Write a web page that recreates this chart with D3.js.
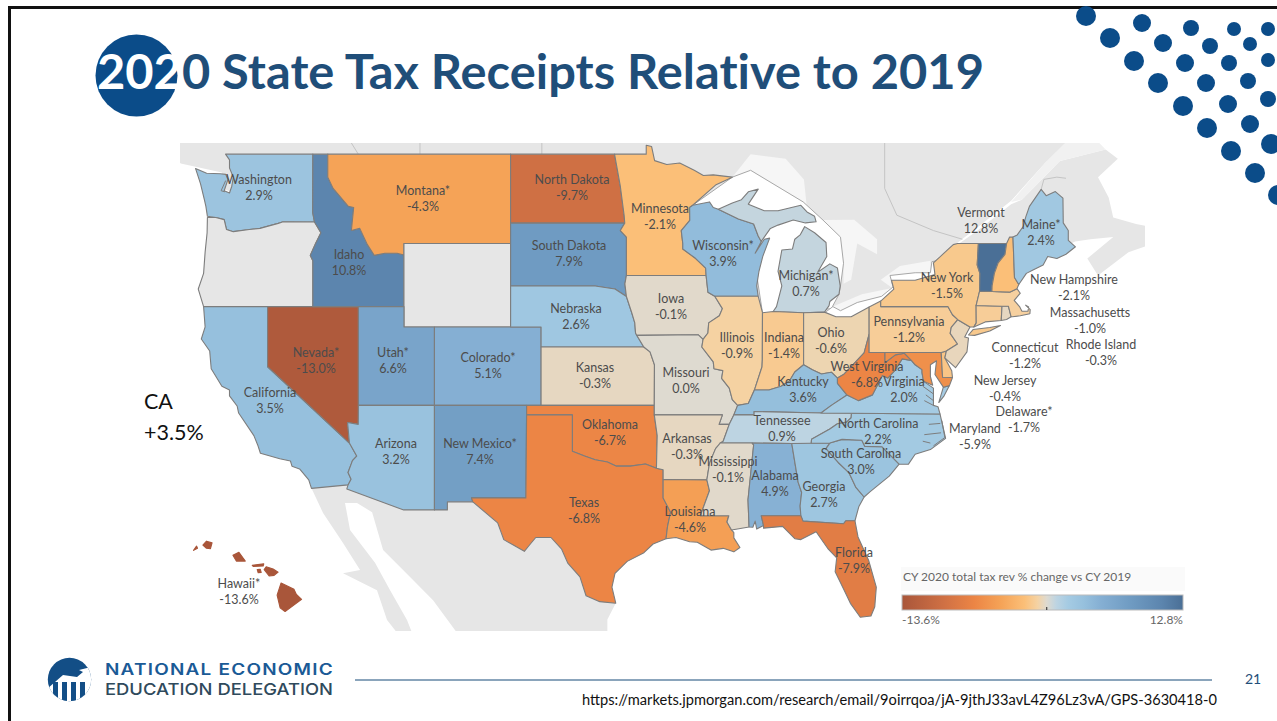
<!DOCTYPE html>
<html>
<head>
<meta charset="utf-8">
<title>2020 State Tax Receipts Relative to 2019</title>
<script src="https://cdn.jsdelivr.net/npm/d3@7"></script>
<style>
    html, body { margin: 0; padding: 0; background: #fff; overflow: hidden; }
    svg { display: block; }
    .soft { filter: blur(0.35px); }
</style>
</head>
<body>
<div id="chart"></div>
<script>
// Tax receipt change
const stateNames = ["Washington", "Oregon", "California", "Nevada*", "Idaho", "Montana*", "Wyoming", "Utah*", "Colorado*", "Arizona", "New Mexico*",
    "North Dakota", "South Dakota", "Nebraska", "Kansas", "Oklahoma", "Texas", "Minnesota", "Iowa", "Missouri", "Arkansas", "Louisiana",
    "Wisconsin*", "Illinois", "Michigan*", "Indiana", "Ohio", "Kentucky", "Tennessee", "Mississippi", "Alabama", "Georgia", "Florida",
    "South Carolina", "North Carolina", "Virginia", "West Virginia", "Maryland", "Delaware*", "Pennsylvania", "New Jersey", "New York",
    "Connecticut", "Rhode Island", "Massachusetts", "Vermont", "New Hampshire", "Maine*", "Hawaii*"];
const stateValues = [2.9, null, 3.5, -13.0, 10.8, -4.3, null, 6.6, 5.1, 3.2, 7.4,
    -9.7, 7.9, 2.6, -0.3, -6.7, -6.8, -2.1, -0.1, 0.0, -0.3, -4.6,
    3.9, -0.9, 0.7, -1.4, -0.6, 3.6, 0.9, -0.1, 4.9, 2.7, -7.9,
    3.0, 2.2, 2.0, -6.8, -5.9, -1.7, -1.2, -0.4, -1.5,
    -1.2, -0.3, -1.0, 12.8, -2.1, 2.4, -13.6];

// Colour ramp, sampled from the filled states
const colorStops = [-13.6, -9.7, -6.8, -4.3, -2.1, -0.9, 0, 0.9, 2.0, 3.5, 5.1, 7.9, 10.8, 12.8];
const colorRange = ["#a9563a", "#cf7044", "#ec8545", "#f5a357", "#fbbf78", "#f5d2a2", "#dedad0", "#bdd4e2", "#a5cbe3", "#96c0dd", "#85afd3", "#6f9bc2", "#5c85ae", "#4a6f96"];

// State outlines as lon/lat rings, same order as stateNames
const stateRings = [
    [[[-122.76,49],[-117.03,49],[-117.04,46.42],[-116.92,45.99],[-118.98,46],[-119.3,45.93],[-120.5,45.7],[-121.2,45.65],[-122.25,45.55],[-122.7,45.65],[-122.85,46.1],[-123.4,46.2],[-123.95,46.25],[-124.05,46.7],[-124.15,47],[-124.4,47.7],[-124.73,48.38],[-124,48.17],[-123.1,48.15],[-122.75,48.12],[-122.6,47.9],[-122.85,47.4],[-122.5,47.3],[-122.35,47.6],[-122.25,48],[-122.5,48.4],[-122.5,48.75]]],
    [[[-124.55,42.85],[-124.2,42],[-120,42],[-117.03,42],[-117.03,44.2],[-117.2,44.45],[-116.85,45],[-116.5,45.5],[-116.92,45.99],[-118.98,46],[-119.3,45.93],[-120.5,45.7],[-121.2,45.65],[-122.25,45.55],[-122.7,45.65],[-122.85,46.1],[-123.4,46.2],[-123.95,46.2],[-123.97,45.5],[-124.1,44.6],[-124.2,43.6]]],
    [[[-124.2,42],[-120,42],[-120,39],[-114.63,35],[-114.15,34.3],[-114.43,34.05],[-114.72,33.4],[-114.52,33.03],[-114.72,32.72],[-117.12,32.53],[-117.3,33],[-117.9,33.6],[-118.4,33.75],[-118.5,34.03],[-119.2,34.15],[-120.47,34.45],[-120.65,34.9],[-120.9,35.4],[-121.9,36.6],[-122,36.97],[-122.5,37.5],[-122.5,37.8],[-123,38],[-123.7,38.9],[-123.8,39.8],[-124.35,40.4],[-124.1,41]]],
    [[[-120,42],[-114.04,42],[-114.04,36.2],[-114.05,36],[-114.75,36.1],[-114.63,35],[-120,39]]],
    [[[-117.03,49],[-116.05,49],[-116.05,48],[-115.7,47.5],[-114.7,46.7],[-114.35,46.65],[-114.5,45.6],[-113.95,45.7],[-113.45,44.95],[-113,44.45],[-112.3,44.55],[-111.5,44.55],[-111.05,44.47],[-111.05,42],[-117.03,42],[-117.03,44.2],[-117.2,44.45],[-116.85,45],[-116.5,45.5],[-116.92,45.99],[-117.04,46.42]]],
    [[[-116.05,49],[-104.05,49],[-104.05,45],[-111.05,45],[-111.05,44.47],[-111.5,44.55],[-112.3,44.55],[-113,44.45],[-113.45,44.95],[-113.95,45.7],[-114.5,45.6],[-114.35,46.65],[-114.7,46.7],[-115.7,47.5],[-116.05,48]]],
    [[[-111.05,45],[-104.05,45],[-104.05,41],[-111.05,41]]],
    [[[-114.04,42],[-111.05,42],[-111.05,41],[-109.05,41],[-109.05,37],[-114.04,37]]],
    [[[-109.05,41],[-102.05,41],[-102.05,37],[-109.05,37]]],
    [[[-114.04,37],[-109.05,37],[-109.05,31.33],[-111.07,31.33],[-114.8,32.5],[-114.72,32.72],[-114.52,33.03],[-114.72,33.4],[-114.43,34.05],[-114.15,34.3],[-114.63,35],[-114.75,36.1],[-114.05,36]]],
    [[[-109.05,37],[-103,37],[-103.05,32],[-106.62,32],[-106.53,31.78],[-108.2,31.78],[-108.2,31.33],[-109.05,31.33]]],
    [[[-104.05,49],[-97.23,49],[-96.85,47.6],[-96.6,46.3],[-96.56,45.94],[-104.05,45.94]]],
    [[[-104.05,45.94],[-96.56,45.94],[-96.85,45.6],[-96.45,45.3],[-96.45,43.5],[-96.55,43.1],[-96.45,42.49],[-97.2,42.85],[-98.5,43],[-104.05,43]]],
    [[[-104.05,43],[-98.5,43],[-97.2,42.85],[-96.45,42.49],[-96.1,41.7],[-95.9,41.2],[-95.85,40.7],[-95.31,40],[-102.05,40],[-102.05,41],[-104.05,41]]],
    [[[-102.05,40],[-95.31,40],[-94.9,39.75],[-94.61,39.1],[-94.62,37],[-102.05,37]]],
    [[[-103,37],[-94.62,37],[-94.62,36.5],[-94.43,35.4],[-94.48,33.64],[-95.2,33.87],[-96.2,33.75],[-97.1,33.75],[-97.7,33.98],[-98.5,34.1],[-99.2,34.3],[-100,34.56],[-100,36.5],[-103,36.5]]],
    [[[-106.62,32],[-103.05,32],[-103,36.5],[-100,36.5],[-100,34.56],[-99.2,34.3],[-98.5,34.1],[-97.7,33.98],[-97.1,33.75],[-96.2,33.75],[-95.2,33.87],[-94.48,33.64],[-94.04,33.55],[-94.04,33.02],[-94.04,31.99],[-93.55,31.2],[-93.75,30.4],[-93.85,29.7],[-94.7,29.4],[-95.3,28.9],[-96.4,28.4],[-97.2,27.7],[-97.4,26.9],[-97.15,25.96],[-98.2,26.05],[-99.1,26.4],[-99.5,27.5],[-100.3,28.3],[-100.7,29.1],[-101.4,29.77],[-102.4,29.77],[-102.85,29.3],[-103.15,28.98],[-104.5,29.65],[-104.9,30.6],[-106.53,31.78]]],
    [[[-97.23,49],[-95.15,49],[-95.15,49.38],[-94.8,49.33],[-94.6,48.72],[-93.8,48.55],[-92.95,48.62],[-92,48.3],[-91.4,48.07],[-90.75,48.1],[-89.5,48],[-90.6,47.65],[-92.1,46.75],[-92.3,46.65],[-92.29,46.07],[-92.85,45.6],[-92.75,45],[-92.75,44.75],[-91.9,44.3],[-91.25,43.85],[-91.22,43.5],[-96.45,43.5],[-96.45,45.3],[-96.85,45.6],[-96.56,45.94],[-96.6,46.3],[-96.85,47.6]]],
    [[[-96.45,43.5],[-91.22,43.5],[-91.1,42.7],[-90.65,42.5],[-90.15,41.9],[-90.35,41.55],[-91.05,41.2],[-91.1,40.7],[-91.42,40.38],[-91.73,40.61],[-95.77,40.58],[-95.85,40.7],[-95.9,41.2],[-96.1,41.7],[-96.45,42.49],[-96.55,43.1]]],
    [[[-95.77,40.58],[-91.73,40.61],[-91.42,40.38],[-91.5,40],[-90.75,39.25],[-90.7,38.9],[-90.12,38.8],[-90.2,38.4],[-89.7,37.9],[-89.5,37.3],[-89.15,37],[-89.4,36.5],[-89.7,36],[-90.37,36],[-90.15,36.5],[-94.62,36.5],[-94.62,37],[-94.61,39.1],[-94.9,39.75],[-95.31,40]]],
    [[[-94.62,36.5],[-90.15,36.5],[-90.37,36],[-89.7,36],[-90.1,35.1],[-90.6,34.7],[-91,33.9],[-91.17,33],[-94.04,33.02],[-94.04,33.55],[-94.48,33.64],[-94.43,35.4]]],
    [[[-94.04,33.02],[-91.17,33],[-91,32.4],[-91.6,31],[-89.73,31],[-89.85,30.65],[-89.55,30.2],[-89.4,30.05],[-89.4,29.75],[-89,29.2],[-89.4,28.95],[-90.1,29.15],[-90.9,29.05],[-91.8,29.5],[-92.3,29.53],[-93.2,29.77],[-93.85,29.7],[-93.75,30.4],[-93.55,31.2],[-94.04,31.99]]],
    [[[-92.75,45],[-92.85,45.6],[-92.29,46.07],[-92.3,46.65],[-92.1,46.75],[-91,46.9],[-90.75,46.65],[-90.42,46.57],[-89.1,46.13],[-88.1,45.9],[-87.8,45.35],[-87.6,45.1],[-88,44.55],[-87.4,45.2],[-87.05,45.25],[-87.5,44.4],[-87.75,43.7],[-87.9,43],[-87.8,42.5],[-90.65,42.5],[-91.1,42.7],[-91.22,43.5],[-91.25,43.85],[-91.9,44.3],[-92.75,44.75]]],
    [[[-90.65,42.5],[-87.8,42.5],[-87.52,41.7],[-87.53,39.35],[-87.55,39],[-88.05,37.8],[-88.45,37.1],[-89.15,37],[-89.5,37.3],[-89.7,37.9],[-90.2,38.4],[-90.12,38.8],[-90.7,38.9],[-90.75,39.25],[-91.5,40],[-91.42,40.38],[-91.1,40.7],[-91.05,41.2],[-90.35,41.55],[-90.15,41.9]]],
    [[[-86.82,41.76],[-84.82,41.7],[-83.45,41.73],[-83.15,42.05],[-83.1,42.25],[-82.5,42.6],[-82.42,43],[-82.6,43.85],[-83.1,44.05],[-83.9,43.65],[-83.3,44.4],[-83.35,45.05],[-84.1,45.5],[-84.75,45.78],[-85.05,45.4],[-85.4,45.2],[-85.55,44.75],[-86.25,44.7],[-86.5,43.7],[-86.25,43],[-86.6,42]],
     [[-90.42,46.57],[-89.5,46.85],[-88.9,47],[-88.45,47.35],[-87.8,47.47],[-88.45,46.8],[-87.4,46.5],[-86.5,46.5],[-85,46.75],[-84.6,46.45],[-84.1,46.25],[-84,46],[-84.7,45.95],[-85.5,46.08],[-86.5,45.85],[-87,45.7],[-87.6,45.1],[-87.8,45.35],[-88.1,45.9],[-89.1,46.13]]],
    [[[-87.52,41.7],[-86.82,41.76],[-84.82,41.7],[-84.82,39.1],[-85.4,38.73],[-85.75,38.27],[-86.3,38],[-87.1,37.8],[-88.05,37.8],[-87.55,39],[-87.53,39.35]]],
    [[[-84.82,41.7],[-83.45,41.73],[-82.7,41.5],[-81.7,41.5],[-80.52,41.98],[-80.52,40.64],[-80.85,39.7],[-81.7,39],[-82.2,38.6],[-82.6,38.42],[-83,38.72],[-83.65,38.63],[-84.25,38.85],[-84.82,39.1]]],
    [[[-89.15,37],[-89.4,36.5],[-88.07,36.5],[-88.07,36.68],[-83.68,36.6],[-83,37],[-81.97,37.54],[-82.6,38.15],[-82.6,38.42],[-83,38.72],[-83.65,38.63],[-84.25,38.85],[-84.82,39.1],[-85.4,38.73],[-85.75,38.27],[-86.3,38],[-87.1,37.8],[-88.05,37.8],[-88.45,37.1]]],
    [[[-89.4,36.5],[-88.07,36.5],[-88.07,36.68],[-83.68,36.6],[-81.68,36.59],[-81.7,36.35],[-82,36.12],[-82.6,36.03],[-83.1,35.75],[-84.3,35.2],[-84.32,34.99],[-85.6,34.98],[-88.2,35],[-90.3,35],[-90.1,35.1],[-89.7,36]]],
    [[[-90.3,35],[-88.2,35],[-88.1,34.9],[-88.47,31.9],[-88.4,30.37],[-89.55,30.2],[-89.85,30.65],[-89.73,31],[-91.6,31],[-91,32.4],[-91.17,33],[-91,33.9],[-90.6,34.7]]],
    [[[-88.2,35],[-85.6,34.98],[-85.18,32.87],[-84.95,32.3],[-85.05,31.55],[-85,31],[-87.6,31],[-87.45,30.45],[-87.9,30.25],[-88,30.7],[-88.15,30.35],[-88.4,30.37],[-88.47,31.9],[-88.1,34.9]]],
    [[[-85.6,34.98],[-83.1,35],[-83.35,34.7],[-82.55,33.95],[-81.85,33.4],[-81.4,32.6],[-80.85,32.05],[-81.2,31.5],[-81.45,30.72],[-82.05,30.72],[-82.2,30.55],[-84.86,30.7],[-85,31],[-85.05,31.55],[-84.95,32.3],[-85.18,32.87]]],
    [[[-87.6,31],[-85,31],[-84.86,30.7],[-82.2,30.55],[-82.05,30.72],[-81.45,30.72],[-81.25,29.8],[-80.55,28.45],[-80.05,26.9],[-80.15,25.75],[-80.4,25.2],[-81.1,25.13],[-81.75,25.95],[-82.15,26.7],[-82.75,27.8],[-82.65,28.6],[-83.2,29.1],[-84,30.1],[-85,29.65],[-85.4,29.7],[-86.2,30.4],[-87.45,30.3],[-87.45,30.45]]],
    [[[-83.1,35],[-82.3,35.2],[-81,35.15],[-80.8,34.82],[-79.67,34.8],[-78.55,33.86],[-79.2,33.2],[-80.45,32.35],[-80.85,32.05],[-81.4,32.6],[-81.85,33.4],[-82.55,33.95],[-83.35,34.7]]],
    [[[-84.32,34.99],[-84.3,35.2],[-83.1,35.75],[-82.6,36.03],[-82,36.12],[-81.7,36.35],[-81.68,36.59],[-75.87,36.55],[-75.5,35.25],[-76.5,34.65],[-77.5,34.4],[-77.95,33.85],[-78.55,33.86],[-79.67,34.8],[-80.8,34.82],[-81,35.15],[-82.3,35.2],[-83.1,35]]],
    [[[-83.68,36.6],[-81.68,36.59],[-75.87,36.55],[-76,36.93],[-76.3,37],[-76.3,37.55],[-76.3,37.9],[-76.95,38.25],[-77.05,38.7],[-77.05,38.85],[-77.5,39.1],[-77.75,39.32],[-78.35,39.4],[-78.87,38.77],[-79.3,38.42],[-79.65,38.55],[-80.3,37.55],[-81.22,37.25],[-81.97,37.54],[-83,37]],
     [[-75.95,37.15],[-75.65,37.95],[-75.25,38.03],[-75.6,37.5]]],
    [[[-81.97,37.54],[-81.22,37.25],[-80.3,37.55],[-79.65,38.55],[-79.3,38.42],[-78.87,38.77],[-78.35,39.4],[-77.75,39.32],[-78.2,39.68],[-78.8,39.6],[-79.48,39.2],[-79.48,39.72],[-80.52,39.72],[-80.52,40.64],[-80.85,39.7],[-81.7,39],[-82.2,38.6],[-82.6,38.42],[-82.6,38.15]]],
    [[[-79.48,39.72],[-75.79,39.72],[-75.7,38.46],[-75.05,38.45],[-75.25,38.03],[-75.65,37.95],[-76.2,38.6],[-76.1,39.3],[-76.5,39.1],[-76.5,38.5],[-76.35,38.05],[-76.95,38.25],[-77.05,38.7],[-77.05,38.85],[-77.5,39.1],[-77.75,39.32],[-78.2,39.68],[-78.8,39.6],[-79.48,39.2]]],
    [[[-75.79,39.72],[-75.45,39.8],[-75.55,39.45],[-75.1,38.8],[-75.05,38.45],[-75.7,38.46]]],
    [[[-80.52,41.98],[-79.76,42.27],[-79.76,42],[-75.35,42],[-75.05,41.6],[-74.7,41.36],[-75.13,40.98],[-75.2,40.68],[-74.72,40.15],[-75.45,39.8],[-75.79,39.72],[-80.52,39.72]]],
    [[[-74.7,41.36],[-73.9,41],[-74.25,40.5],[-74,40.45],[-74.1,39.75],[-74.85,38.95],[-75.55,39.45],[-75.45,39.8],[-74.72,40.15],[-75.2,40.68],[-75.13,40.98]]],
    [[[-79.76,42.27],[-78.9,42.85],[-79.05,43.27],[-77.5,43.27],[-76.2,43.55],[-76.3,44.1],[-75,44.95],[-74.72,45],[-73.35,45],[-73.43,44],[-73.25,43.6],[-73.27,42.75],[-73.5,42.05],[-73.49,41.2],[-73.65,41],[-73.9,41],[-74.7,41.36],[-75.05,41.6],[-75.35,42],[-79.76,42]],
     [[-74,40.6],[-73.7,40.87],[-72.6,40.97],[-71.9,41.07],[-72.6,40.8],[-73.6,40.58]]],
    [[[-73.5,42.05],[-71.8,42.02],[-71.85,41.32],[-72.9,41.25],[-73.65,41],[-73.49,41.2]]],
    [[[-71.8,42.02],[-71.38,42.02],[-71.2,41.5],[-71.5,41.37],[-71.85,41.32]]],
    [[[-73.5,42.05],[-73.27,42.75],[-72.46,42.73],[-71.3,42.7],[-70.82,42.87],[-70.6,42.65],[-71,42.3],[-70.65,42],[-70.5,41.78],[-70.1,41.77],[-70.05,41.98],[-70.25,42.07],[-69.95,41.85],[-69.97,41.65],[-70.6,41.55],[-71.12,41.5],[-71.2,41.5],[-71.38,42.02],[-71.8,42.02]]],
    [[[-73.35,45],[-71.5,45],[-71.6,44.5],[-72.05,44.1],[-72.3,43.6],[-72.45,43],[-72.46,42.73],[-73.27,42.75],[-73.25,43.6],[-73.43,44]]],
    [[[-71.5,45],[-71.3,45.3],[-71.08,45.3],[-70.98,43.4],[-70.7,43.07],[-70.82,42.87],[-71.3,42.7],[-72.46,42.73],[-72.45,43],[-72.3,43.6],[-72.05,44.1],[-71.6,44.5]]],
    [[[-71.08,45.3],[-70.8,45.4],[-70.4,45.8],[-70.25,46.2],[-70,46.7],[-69.23,47.46],[-68.9,47.18],[-68.3,47.36],[-67.8,47.07],[-67.78,45.95],[-67.45,45.6],[-67.45,45.15],[-66.98,44.85],[-67.6,44.5],[-68.2,44.3],[-68.8,44.4],[-69.1,44],[-69.8,43.75],[-70.2,43.6],[-70.7,43.07],[-70.98,43.4]]],
    [[[-155.85,20.27],[-155.2,19.97],[-155.08,19.73],[-154.82,19.5],[-155.65,18.92],[-155.9,19.1],[-156.05,19.7]],
     [[-156.7,20.9],[-156.6,21.03],[-156.25,20.93],[-156,20.78],[-156.2,20.63],[-156.45,20.6]],
     [[-158.27,21.57],[-157.97,21.71],[-157.65,21.3],[-158.1,21.3]],
     [[-159.78,22.05],[-159.6,22.23],[-159.32,22.15],[-159.4,21.88],[-159.6,21.9]],
     [[-157.3,21.1],[-156.72,21.17],[-156.75,21.07],[-157.25,21.05]],
     [[-157.05,20.9],[-156.9,20.92],[-156.85,20.77],[-157,20.75]],
     [[-160.25,21.8],[-160.1,22],[-160.05,21.9]]]
];

// Grey base map: neighbours, water, provincial lines
const canadaRing = [[-130,52],[-60,52],[-60,50.2],[-66.5,50.2],[-69,48.6],[-71.2,46.95],[-73.4,45.75],[-74.7,45.05],[-76.2,44.25],[-75,44.8],[-73.4,45.6],[-71.2,46.8],[-70.5,47],[-68,48.7],[-65,49.2],[-64.2,48.8],[-65.5,48],[-64.8,47.1],[-64.5,46.2],[-63,45.9],[-61.5,45.7],[-60.5,47],[-60,46],[-61,45.2],[-63.5,44.6],[-65.5,43.5],[-66.2,44.3],[-64.5,45.3],[-66,45.2],[-67,45.1],[-70,44],[-80,42],[-100,42],[-123,47.5],[-123,48.2],[-125.7,48.6],[-128,50]];
const mexicoRing = [[-117.12,32.53],[-116.36,31.16],[-115.05,29.46],[-113.93,27.9],[-115.05,27.72],[-112.82,26.72],[-112.16,24.96],[-111.5,24.2],[-110.52,24.2],[-110.85,24.96],[-111.96,26.72],[-112.95,28.32],[-114.59,30.2],[-114.92,31.72],[-114.13,31.72],[-113.14,31.2],[-112.42,29.06],[-110.65,27.5],[-109.14,26.14],[-107.57,24.2],[-97.7,24.2],[-97.7,25],[-97.15,25.96],[-100,33],[-114,33.5]];
const stLawrenceRing = [[-71.2,46.9],[-69,48.6],[-66.5,50.2],[-65,49.2],[-68,48.7],[-70.5,47]];
const paleWaterRings = [
    [[-89.5,48],[-88.3,48.3],[-84.85,46.9],[-84.6,46.6],[-84.8,47.9],[-86,48.8],[-88.3,49]],
    [[-83.55,46.08],[-81.5,46.1],[-80,45.2],[-80,44.5],[-81.3,45],[-81.7,43.3],[-82.2,43.1],[-82.2,44.08],[-82.4,45.3]],
    [[-82.9,42],[-81,42.6],[-79,42.9],[-79.76,43.3],[-78.5,43.95],[-76.5,44.2],[-76.5,43.63],[-79.15,43.5],[-78.95,42.95],[-79.7,42.5],[-81.3,42.2],[-82.4,41.8]]
];
const usWaterRings = [
    [[-92.1,46.75],[-89.5,48],[-88.3,48.3],[-84.85,46.9],[-83.55,46.08],[-82.4,45.3],[-82.2,44.08],[-82.4,43],[-82.5,42.6],[-83,41.9],[-87.5,41.6],[-88,44]],
    [[-83.4,41.72],[-82.9,42],[-82.4,41.8],[-81.3,42.2],[-79.7,42.5],[-78.95,42.95],[-79.15,43.5],[-77.5,43.63],[-76.5,43.63],[-76.4,44.15],[-76.1,44.2],[-76.2,43.4],[-78,43],[-80,42],[-82,41]]
];
const borderLines = [
    [[-110,49],[-110,50]],
    [[-102,49],[-102,50]],
    [[-114.05,49],[-115,50]],
    [[-79.5,50],[-79.5,47.5],[-78.7,46.3],[-76.3,45.6],[-74.4,45.2]],
    [[-69.23,47.46],[-69.05,47.9],[-68.2,48],[-67.6,47.95]]
];
// Tidal rivers and sounds, drawn over the states
const inletLines = [
    [[-76.3,37],[-76.9,37.25]],
    [[-76.3,37.25],[-76.8,37.55]],
    [[-76.3,37.6],[-77,38]],
    [[-75.85,36.05],[-76.6,36]],
    [[-75.8,35.55],[-76.9,35.45]],
    [[-76.5,35],[-77,35.1]],
    [[-75.75,36.2],[-75.55,35.3],[-76.3,34.85]],
    [[-122.8,47.35],[-123.05,47.4],[-122.75,47.85]]
];

// Layout of the state labels: centre x, centre y of the name line
const labelPos = [[259,180],null,[270,393],[316,353],[349,255],[423,191],null,[393,353],[488,358],[396,444],[480,444],
    [572,180],[569,246],[576,309],[595,368],[610,425],[584,503],[660,209],[671,299],[686,373],[687,439],[690,512],
    [723,246],[737,338],[806,276],[784,338],[831,333],[803,382],[782,421],[728,462],[775,476],[824,487],[854,553],
    [861,454],[878,424],[904,382],[867,367],[975,429],[1024,412],[909,322],[1005,381],[947,278],
    [1025,348],[1101,345],[1090,313],[981,213],[1074,280],[1041,225],[239,584]];

// Corner dots: x, y, radius
const cornerDots = [[1086,16,10],[1142,23,9],[1191,28,8],[1234,29,7],[1268,29,7],[1110,38,10],[1163,43,9],[1210,46,8],[1250,44,7],
    [1134,61,10],[1185,63,9],[1229,63,8],[1268,60,7],[1158,83,10],[1206,83,9],[1248,81,8],[1183,106,10],[1228,104,9],[1268,99,8],
    [1207,128,10],[1250,124,9],[1231,151,10],[1271,144,10],[1255,173,10],[1278,195,10]];

const width = 1277, height = 721;
const mapBox = [[180, 143], [1145, 631]];
const titleColor = "#1f4e79", dotColor = "#0b4c89", textColor = "#4c4c4c";

const svg = d3.select("#chart")
    .append("svg")
    .attr("width", width)
    .attr("height", height)
    .style("background", "#fff");

const color = d3.scaleLinear().domain(colorStops).range(colorRange).clamp(true);

// Main map and the Hawaii inset. precision(0) keeps borders straight between points
const projection = d3.geoMercator().scale(873).translate([2096, 1013]).precision(0).clipExtent(mapBox);
const hawaiiProjection = d3.geoMercator().scale(1140).translate([3382, 995]).precision(0);
const path = d3.geoPath(projection);
const hawaiiPath = d3.geoPath(hawaiiProjection);

// d3-geo wants rings wound so that they enclose the small side of the globe
function toPolygon(ring) {
    const closed = ring.concat([ring[0]]);
    const poly = { type: "Polygon", coordinates: [closed] };
    if (d3.geoArea(poly) > 2 * Math.PI) poly.coordinates = [closed.slice().reverse()];
    return poly;
}
function toMulti(rings) {
    return { type: "MultiPolygon", coordinates: rings.map(r => toPolygon(r).coordinates) };
}

// Slide frame, only the top and left edges show
svg.append("rect").attr("x", 8).attr("y", 6).attr("width", 3).attr("height", height - 6).attr("fill", "#111");
svg.append("rect").attr("x", 8).attr("y", 6).attr("width", width - 8).attr("height", 3).attr("fill", "#111");

// Corner decoration
svg.append("g").selectAll("circle")
    .data(cornerDots)
    .enter()
    .append("circle")
    .attr("cx", d => d[0])
    .attr("cy", d => d[1])
    .attr("r", d => d[2])
    .attr("fill", dotColor);

// Title with its round badge
svg.append("circle").attr("cx", 136.5).attr("cy", 75.5).attr("r", 41).attr("fill", dotColor);
const title = svg.append("text")
    .attr("x", 97)
    .attr("y", 89)
    .attr("font-family", "Lato, sans-serif")
    .attr("font-weight", 700)
    .attr("font-size", 47)
    .attr("fill", titleColor)
    .attr("textLength", 887)
    .attr("lengthAdjust", "spacingAndGlyphs")
    .style("font-variant-ligatures", "none");
title.append("tspan").attr("fill", "#fff").text("202");
title.append("tspan").text("0 State Tax Receipts Relative to 2019");

// Base map
const base = svg.append("g").attr("class", "soft");
base.append("path").datum(toPolygon(canadaRing)).attr("d", path).attr("fill", "#e6e6e6");
base.append("path").datum(toPolygon(mexicoRing)).attr("d", path).attr("fill", "#e6e6e6");
base.append("path").datum(toPolygon(stLawrenceRing)).attr("d", path).attr("fill", "#f1f1f1");
base.selectAll(".pale")
    .data(paleWaterRings.map(toPolygon))
    .enter()
    .append("path")
    .attr("class", "pale")
    .attr("d", path)
    .attr("fill", "#f6f6f6");
base.selectAll(".water")
    .data(usWaterRings.map(toPolygon))
    .enter()
    .append("path")
    .attr("class", "water")
    .attr("d", path)
    .attr("fill", "#fff")
    .attr("stroke", "#a8a8a8")
    .attr("stroke-width", 1);
base.selectAll(".border")
    .data(borderLines)
    .enter()
    .append("path")
    .attr("class", "border")
    .attr("d", d => path({ type: "LineString", coordinates: d }))
    .attr("fill", "none")
    .attr("stroke", "#c4c4c4")
    .attr("stroke-width", 1);

// States
const states = svg.append("g").attr("class", "soft");
states.selectAll(".state")
    .data(stateNames)
    .enter()
    .append("path")
    .attr("class", "state")
    .attr("d", (d, i) => (d === "Hawaii*" ? hawaiiPath : path)(toMulti(stateRings[i])))
    .attr("fill", (d, i) => stateValues[i] === null ? "#e6e6e6" : color(stateValues[i]))
    .attr("stroke", (d, i) => d === "Hawaii*" ? color(-13.6) : "#7d7d7d")
    .attr("stroke-width", 1.1)
    .attr("stroke-linejoin", "round");
states.selectAll(".inlet")
    .data(inletLines)
    .enter()
    .append("path")
    .attr("class", "inlet")
    .attr("d", d => path({ type: "LineString", coordinates: d }))
    .attr("fill", "none")
    .attr("stroke", "#7d7d7d")
    .attr("stroke-width", 1);

// State labels, two lines each
const labels = svg.append("g")
    .attr("font-family", "Lato, sans-serif")
    .attr("font-size", 12.5)
    .attr("fill", textColor)
    .attr("text-anchor", "middle");
stateNames.forEach((name, i) => {
    if (stateValues[i] === null) return;
    const [x, y] = labelPos[i];
    labels.append("text").attr("x", x).attr("y", y + 4).text(name);
    labels.append("text").attr("x", x).attr("y", y + 20).text(stateValues[i].toFixed(1) + "%");
});

// Call-out
svg.append("text").attr("x", 144).attr("y", 409).attr("font-family", "Lato, sans-serif").attr("font-size", 21.5).attr("fill", "#111").text("CA");
svg.append("text").attr("x", 144).attr("y", 440).attr("font-family", "Lato, sans-serif").attr("font-size", 21.5).attr("fill", "#111").text("+3.5%");

// Legend
const legendX = d3.scaleLinear().domain([-13.6, 12.8]).range([902, 1183]);
const grad = svg.append("defs").append("linearGradient").attr("id", "ramp");
grad.selectAll("stop")
    .data(colorStops)
    .enter()
    .append("stop")
    .attr("offset", d => (d + 13.6) / 26.4)
    .attr("stop-color", d => color(d));
svg.append("rect").attr("x", 901).attr("y", 567).attr("width", 284).attr("height", 24).attr("fill", "#fafafa");
svg.append("text").attr("x", 903).attr("y", 581).attr("font-family", "Lato, sans-serif").attr("font-size", 12).attr("fill", "#666").text("CY 2020 total tax rev % change vs CY 2019");
svg.append("rect").attr("x", legendX(-13.6)).attr("y", 595).attr("width", legendX(12.8) - legendX(-13.6)).attr("height", 15)
    .attr("fill", "url(#ramp)").attr("stroke", "#bbb").attr("stroke-width", 1);
svg.append("line").attr("x1", legendX(0)).attr("x2", legendX(0)).attr("y1", 607).attr("y2", 610).attr("stroke", "#222");
svg.append("text").attr("x", 902).attr("y", 624).attr("font-family", "Lato, sans-serif").attr("font-size", 12).attr("fill", "#666").text("-13.6%");
svg.append("text").attr("x", 1183).attr("y", 624).attr("text-anchor", "end").attr("font-family", "Lato, sans-serif").attr("font-size", 12).attr("fill", "#666").text("12.8%");

// Logo
const clip = svg.select("defs").append("clipPath").attr("id", "logoClip");
clip.append("circle").attr("cx", 69.5).attr("cy", 679.5).attr("r", 21.7);
const logo = svg.append("g").attr("clip-path", "url(#logoClip)");
logo.append("rect").attr("x", 47).attr("y", 657).attr("width", 45).attr("height", 46).attr("fill", "#134e86");
logo.append("path").attr("d", "M46 690 L63 675 L77 677 L83 672 L79 670 L91 667 L92 705 L46 705 Z").attr("fill", "#fff");
[53, 62, 71, 80].forEach(x => {
    logo.append("rect").attr("x", x).attr("y", 682).attr("width", 5).attr("height", 22).attr("fill", "#134e86");
});
svg.append("text").attr("x", 105).attr("y", 675).attr("font-family", "Inter, sans-serif").attr("font-weight", 600)
    .attr("font-size", 15.5).attr("fill", "#1a5a96").attr("letter-spacing", 1)
    .attr("textLength", 229).attr("lengthAdjust", "spacingAndGlyphs").text("NATIONAL ECONOMIC");
svg.append("text").attr("x", 105).attr("y", 695).attr("font-family", "Inter, sans-serif").attr("font-weight", 500)
    .attr("font-size", 16.5).attr("fill", "#2f4a5c").attr("textLength", 228).attr("lengthAdjust", "spacingAndGlyphs").text("EDUCATION DELEGATION");

// Footer
svg.append("line").attr("x1", 355).attr("x2", 1212).attr("y1", 680).attr("y2", 680).attr("stroke", "#174a78").attr("stroke-width", 1);
svg.append("text").attr("x", 1245).attr("y", 684).attr("font-family", "Lato, sans-serif").attr("font-size", 14).attr("fill", titleColor).text("21");
svg.append("text").attr("x", 582).attr("y", 705).attr("font-family", "Lato, sans-serif").attr("font-size", 14.5).attr("fill", "#111")
    .attr("textLength", 635).attr("lengthAdjust", "spacingAndGlyphs").text("https://markets.jpmorgan.com/research/email/9oirrqoa/jA-9jthJ33avL4Z96Lz3vA/GPS-3630418-0");
</script>
</body>
</html>
